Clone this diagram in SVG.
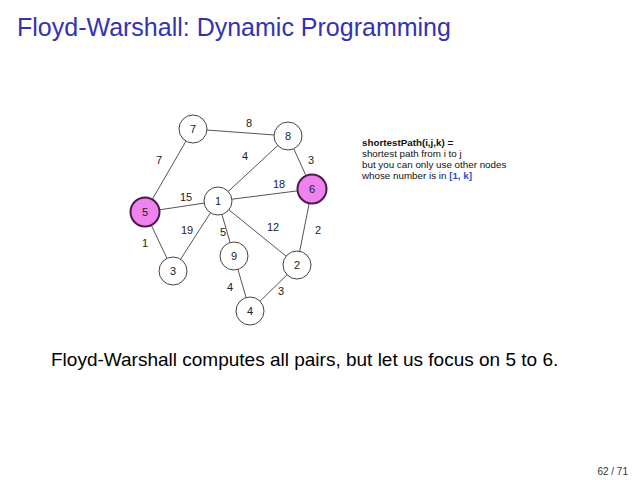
<svg xmlns="http://www.w3.org/2000/svg" width="640" height="480" viewBox="0 0 640 480">
<style>
text{font-family:"Liberation Sans",Arial,sans-serif}
.n circle{fill:#fff;stroke:#444;stroke-width:1}
.n.h circle{fill:#ee82ee;stroke:#4a1a4a;stroke-width:2}
.n text{font-size:11px;text-anchor:middle;fill:#222}
.e line{stroke:#555;stroke-width:1}
.w{font-size:11px;text-anchor:middle;fill:#222}
.side{font-size:9.8px;fill:#111}
</style>
<rect width="640" height="480" fill="#fff"/>
<text x="17" y="36" font-size="25" fill="#3333b2">Floyd-Warshall: Dynamic Programming</text>
<g id="connectors" class="e">
<line x1="193" y1="129" x2="288" y2="136"/>
<line x1="193" y1="129" x2="145" y2="212"/>
<line x1="288" y1="136" x2="218" y2="201"/>
<line x1="288" y1="136" x2="312" y2="189"/>
<line x1="218" y1="201" x2="312" y2="189"/>
<line x1="218" y1="201" x2="145" y2="212"/>
<line x1="218" y1="201" x2="173" y2="271"/>
<line x1="218" y1="201" x2="234" y2="256"/>
<line x1="218" y1="201" x2="297" y2="265"/>
<line x1="312" y1="189" x2="297" y2="265"/>
<line x1="145" y1="212" x2="173" y2="271"/>
<line x1="234" y1="256" x2="250" y2="311"/>
<line x1="250" y1="311" x2="297" y2="265"/>
</g>
<g id="weights">
<text class="w" x="249" y="127">8</text>
<text class="w" x="159" y="164">7</text>
<text class="w" x="245" y="160">4</text>
<text class="w" x="311" y="164">3</text>
<text class="w" x="279" y="188">18</text>
<text class="w" x="186" y="201">15</text>
<text class="w" x="187" y="234">19</text>
<text class="w" x="223" y="236">5</text>
<text class="w" x="273" y="231">12</text>
<text class="w" x="318" y="234">2</text>
<text class="w" x="145" y="247">1</text>
<text class="w" x="230" y="291">4</text>
<text class="w" x="281" y="295">3</text>
</g>
<g id="n7" class="n"><circle cx="193" cy="129" r="14"/><text x="193" y="133">7</text></g>
<g id="n8" class="n"><circle cx="288" cy="136" r="14"/><text x="288" y="140">8</text></g>
<g id="n6" class="n h"><circle cx="312" cy="189" r="14.5"/><text x="312" y="193">6</text></g>
<g id="n5" class="n h"><circle cx="145" cy="212" r="14.5"/><text x="145" y="216">5</text></g>
<g id="n1" class="n"><circle cx="218" cy="201" r="14"/><text x="218" y="205">1</text></g>
<g id="n9" class="n"><circle cx="234" cy="256" r="14"/><text x="234" y="260">9</text></g>
<g id="n3" class="n"><circle cx="173" cy="271" r="14"/><text x="173" y="275">3</text></g>
<g id="n2" class="n"><circle cx="297" cy="265" r="14"/><text x="297" y="269">2</text></g>
<g id="n4" class="n"><circle cx="250" cy="311" r="14"/><text x="250" y="315">4</text></g>
<g id="note" class="side">
<text x="362" y="146" font-weight="bold">shortestPath(i,j,k) =</text>
<text x="362" y="157">shortest path from i to j</text>
<text x="362" y="168">but you can only use other nodes</text>
<text x="362" y="179">whose number is in <tspan fill="#2a52c9" font-weight="bold">[1, k]</tspan></text>
</g>
<text x="51" y="366" font-size="19" fill="#000">Floyd-Warshall computes all pairs, but let us focus on 5 to 6.</text>
<text x="628" y="475" font-size="10" text-anchor="end" fill="#333">62 / 71</text>
</svg>
